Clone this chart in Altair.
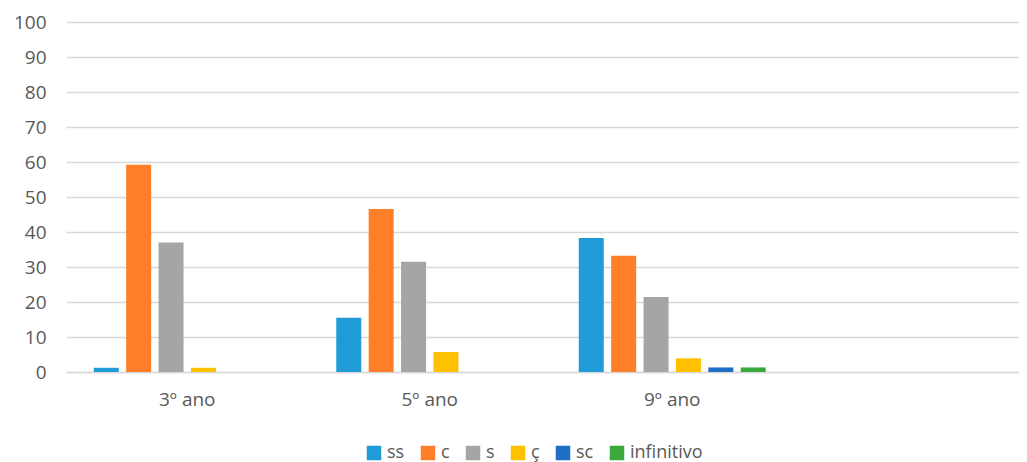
import altair as alt
import pandas as pd

categories = ["3º ano", "5º ano", "9º ano", " "]
series = ["ss", "c", "s", "ç", "sc", "infinitivo"]
colors = ["#1F9BD7", "#FE7F27", "#A5A5A5", "#FFC000", "#1F6FC6", "#3BAA3B"]

values = {
    "3º ano": [1.2, 59.2, 37.0, 1.2, 0.0, 0.0],
    "5º ano": [15.5, 46.6, 31.5, 5.7, 0.0, 0.0],
    "9º ano": [38.3, 33.2, 21.4, 3.9, 1.3, 1.3],
}

rows = []
for cat, vals in values.items():
    for s, v in zip(series, vals):
        rows.append({"ano": cat, "serie": s, "valor": v})
df = pd.DataFrame(rows)

FONT = "Open Sans"
TXT = "#595959"
GRID = "#D9D9D9"

chart = alt.Chart(df).mark_bar().encode(
    x=alt.X("ano:N", sort=categories,
            scale=alt.Scale(domain=categories, range=[0, 970], paddingInner=0.229, paddingOuter=0.1145),
            axis=alt.Axis(title=None, labelAngle=0, labelFont=FONT, labelFontSize=19, labelColor=TXT,
                          ticks=False, domainColor=GRID, domainWidth=1.5, labelPadding=18)),
    xOffset=alt.XOffset("serie:N", sort=series,
                        scale=alt.Scale(domain=series, paddingInner=0.228, paddingOuter=0)),
    y=alt.Y("valor:Q", scale=alt.Scale(domain=[0, 100]),
            axis=alt.Axis(title=None, values=list(range(0, 101, 10)), labelFont=FONT, labelFontSize=19,
                          labelColor=TXT, ticks=False, domain=False, gridColor=GRID, gridWidth=1.5,
                          labelPadding=20)),
    color=alt.Color("serie:N", sort=series,
                    scale=alt.Scale(domain=series, range=colors),
                    legend=alt.Legend(title=None, orient="none", legendX=299, legendY=422,
                                      direction="horizontal", symbolType="square", symbolSize=210,
                                      symbolStrokeWidth=0, labelFont=FONT, labelFontSize=18,
                                      labelColor=TXT, columnPadding=14, labelOffset=4)),
).properties(
    width=953, height=350,
    autosize=alt.AutoSizeParams(type="none"),
    padding={"left": 58, "top": 14, "right": 0, "bottom": 98},
).configure_view(stroke=None)

chart.save("out.html", embed_options={"renderer": "svg", "actions": False})
